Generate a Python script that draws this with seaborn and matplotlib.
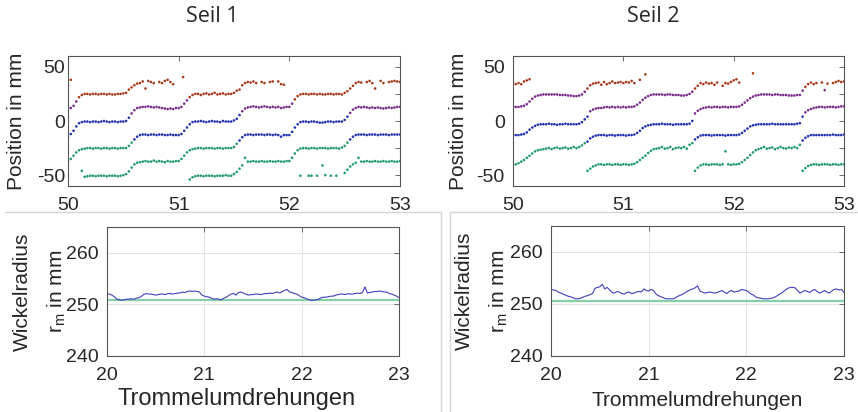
import numpy as np
import pandas as pd
import matplotlib
matplotlib.use("Agg")
import matplotlib.pyplot as plt
from matplotlib.lines import Line2D
import seaborn as sns

sns.set_style("white")
plt.rcParams["font.family"] = ["Liberation Sans", "DejaVu Sans"]
plt.rcParams["mathtext.fontset"] = "custom"
plt.rcParams["mathtext.rm"] = "Liberation Sans"
plt.rcParams["mathtext.it"] = "Liberation Sans:italic"

nan = np.nan

# ====================================
# Data
# ====================================

# drum revolutions, one sample every 0.025 revolutions
rev_top = np.round(np.arange(50, 53.0001, 0.025), 3)
rev_bottom = np.round(np.arange(20, 23.0001, 0.025), 3)

# Seil 1: rope position in mm, four lanes of dots
s1_lane_a = [
    13, 12, 14, 18, 22, 24, 25, 25, 24.5, 25,
    25, 24.5, 25, 25, 24.5, 25, 24.5, 24.5, 25, 25,
    25.5, 26, 29, 31, 33, 34.5, 35, 36.5, 30, 37,
    36, 35, nan, 36, 35, 37, 38, 36, 34, nan,
    12, 13, 16, 19, 22, 24, 25, 25, 24, 25,
    25.5, 24.5, 25, 26, 24.5, 25, 25.5, 24.5, 25, 25,
    26, 28, 29, 33, 35, 36, 35.5, 36.5, 35, nan,
    36, 35, nan, 36, 36.5, nan, 36.5, 34, 33.5, nan,
    13, 16, 20, 23, 24.5, 25, 25, 24.5, 25, 25,
    24.5, 25, 24.5, 24.5, 25, 25, 24.5, 25, 25, 24.5,
    26, 27.5, 30, 32.5, 35, 36, 35.5, nan, 36, 37,
    35, 30, nan, 37, 35, nan, 36, 36.5, 37, 36.5,
    36,
]
s1_lane_b = [
    -14, -12, -9, -5, -2, -1, -0.5, -0.5, -1, -0.5,
    -0.5, -1, -0.5, 0, -0.5, -1, -0.5, -0.5, -1, -0.5,
    -0.5, 0, 3, 7, 10, 12, 12.5, 13, 13, 13.5,
    13, 12.5, 13, 12.5, 12, 11.5, 11, 11.5, 11, 12,
    -13, -12, -9, -6, -3, -1, -0.5, -0.5, 0, -0.5,
    -1, -0.5, 0, -0.5, -0.5, -1, 0, -0.5, -0.5, -0.5,
    0.5, 2, 5.5, 9, 11.5, 12.5, 13, 13.5, 13, 12.5,
    13, 13.5, 13, 12.5, 13, 12.5, 13, 12, 12.5, 13,
    -13, -10, -6, -3, -1, -0.5, -0.5, -1, -0.5, -0.5,
    -1, -1.5, -1.5, -1, -0.5, -0.5, -1, -0.5, -0.5, -0.5,
    1, 4, 7.5, 10.5, 12, 13, 12.5, 13, 12.5, 12,
    12.5, 12, 12.5, 12, 11.5, 12, 12.5, 12, 12.5, 13,
    13,
]
s1_lane_c = [
    -37, -35, -32, -29, -27, -26, -25.5, -25, -25, -25.5,
    -25, -25, -25.5, -25, -25, -25.5, -25, -25, -25.5, -25,
    -25, -25, -23, -20, -17, -14.5, -13, -12.5, -12.5, -13,
    -12.5, -12.5, -13, -12.5, -12.5, -13, -13, -12.5, -13, -13,
    -37, -35, -32, -29, -27, -26, -25.5, -25, -25, -25.5,
    -25, -25, -25, -25.5, -25, -25, -25.5, -25, -25, -25,
    -24, -21, -18, -15, -13, -12.5, -12.5, -13, -12.5, -12.5,
    -12.5, -13, -12.5, -12.5, -13, -12.5, -13, -14.5, -13, -13,
    -37, -34, -30, -27, -25.5, -25, -25, -25.5, -25, -25,
    -25.5, -25, -25, -25, -25.5, -25, -25, -25, -25.5, -24.5,
    -23, -20, -17, -14.5, -13, -12.5, -12.5, -12.5, -13, -12.5,
    -12.5, -12.5, -13, -12.5, -12.5, -12.5, -13, -12.5, -12.5, -12.5,
    -12.5,
]
s1_lane_d = [
    nan, nan, nan, nan, nan, -46, -51.5, -51, -50.5, -50.5,
    -51, -50.5, -50.5, -50.5, -51, -50.5, -50.5, -50.5, -51, -50.5,
    -50, -49, -46.5, -43, -40, -38.5, -38, -37.5, -37, -37.5,
    -37.5, -36.5, -37.5, -37, -37.5, -38, -37, -37.5, -37.5, -37,
    nan, nan, nan, nan, -54, -52, -51, -50.5, -50.5, -51,
    -50.5, -50.5, -50.5, -51, -50.5, -50.5, -50.5, -50, -50.5, -50.5,
    -49, -47, -44, -41, -34, -37.5, -37.5, -37, -37.5, -37.5,
    -37, -37.5, -37.5, -37, -37.5, -37.5, -37, -37.5, -37.5, -37,
    nan, nan, nan, nan, -50.5, nan, nan, -50.5, -50.5, nan,
    -50.5, nan, -41, -50, nan, -50.5, nan, -50.5, nan, nan,
    -48, -45, -42, -40, -38.5, -34, -37.5, -37.5, -37, -37.5,
    -37.5, -37, -37.5, -37.5, -37, -37.5, -37.5, -37, -37.5, -37.5,
    -37,
]
s1_stray_rev = [50.0, 50.025, 51.04]
s1_stray_pos = [33, 38, 40.5]

# Seil 2: rope position in mm
s2_lane_a = [
    35.5, 34, 35, 34, 36.5, 37.5, 38.5, nan, nan, nan,
    nan, nan, nan, nan, nan, nan, nan, nan, nan, nan,
    nan, nan, nan, nan, nan, nan, nan, 30, 33, 34.5,
    35, 35.5, 33.5, 36, 34, 35, 36.5, 35, 35.5, 36,
    35, 36, 35.5, 37, 35, nan, 38, nan, 43, nan,
    nan, nan, nan, nan, nan, nan, nan, nan, nan, nan,
    nan, nan, nan, nan, nan, nan, 30, 32.5, 35, 34,
    35.5, 34.5, 35, 33.5, 35.5, nan, 32.5, 35, 34.5, 36,
    37.5, 38.5, 35.5, nan, nan, nan, nan, 44, nan, nan,
    nan, nan, nan, nan, nan, nan, nan, nan, nan, nan,
    nan, nan, nan, nan, nan, 28, 31.5, 34, 35.5, 34,
    35, nan, 35.5, 28.5, 34.5, nan, 35, 36, 37, 36,
    36.5,
]
s2_lane_b = [
    13, 13, 13, 13.5, 14, 15.5, 18, 20.5, 22.5, 23.5,
    24, 24.5, 24.5, 24.5, 24.5, 24.5, 24.5, 24, 24, 24,
    23.5, 23.5, 23, 23, 23.5, 24.5, 27, 4, 9, 10.5,
    11.5, 12, 12, 12.5, 13, 12.5, 13, 12.5, 13, 12.5,
    13, 12.5, 13, 13, 13.5, 15, 17, 19.5, 21.5, 23,
    24, 24.5, 24.5, 24.5, 24.5, 24, 24.5, 24.5, 24, 24,
    24, 23.5, 23.5, 24, 25, 27, 7, 9.5, 11, 12,
    12.5, 13, 12.5, 13, 13, 12.5, 13, 13, 12.5, 13,
    13, 13, 13.5, 15, 17, 19, 21, 22.5, 23.5, 24,
    24.5, 24.5, 24.5, 24.5, 24, 24.5, 24.5, 24, 24, 24,
    23.5, 23.5, 23.5, 24, 24, 4, 8, 10, 11, 12,
    12.5, 13, 13, 12.5, 13, 13, 13, 12.5, 13, 13.5,
    13.5,
]
s2_lane_c = [
    -13, -13, -13, -12.5, -12, -10.5, -8, -6, -4.5, -3.5,
    -3, -3, -3, -2.5, -3, -3, -3.5, -3, -3, -2.5,
    -3, -3, -3, -3, -2.5, -1, 1.5, -19, -16, -14.5,
    -13.5, -13, -13, -13, -13.5, -13, -13, -13.5, -13, -13,
    -13, -13.5, -13, -13, -12.5, -11, -9, -6.5, -5, -4,
    -3.5, -3, -3, -3, -2.5, -3, -3, -3, -3.5, -3,
    -3, -3, -3, -3, -2.5, 0, -17, -15, -13.5, -13,
    -13, -13, -13.5, -13, -13, -13, -13, -13.5, -13, -13,
    -13, -13, -12.5, -11, -9, -7, -5, -4, -3.5, -3,
    -3, -3, -3, -3, -2.5, -3, -3, -3, -3, -3,
    -3, -3, -3, -2.5, -2, -18, -15.5, -14, -13, -13,
    -13, -13, -13, -13, -13, -13, -12.5, -13, -13, -13,
    -12.5,
]
s2_lane_d = [
    -40, -40, -39, -37.5, -36, -34, -32, -30, -28, -27,
    -26.5, -26, -25.5, -25, -26, -25, -24.5, -25.5, -25, -24.5,
    -25.5, -25, -24, -25, -24, -22.5, -20.5, -46, -44, -42,
    -41, -40, -40, -40.5, -40, -40, -40.5, -40, -40, -40.5,
    -40, -40, -40.5, -40, -39.5, -38, -36, -34, -32, -29.5,
    -27.5, -26, -25.5, -25, -24, -25.5, -25, -24, -26, -25,
    -24.5, -25, -24, -25.5, -22, -20.5, -46, -43, -41, -40,
    -40, -40.5, -40, -40, -40, -40.5, -40, -28, -40, -40.5,
    -40, -40, -39.5, -38, -36, -34, -31.5, -29, -27, -26,
    -25, -24, -25.5, -25, -24.5, -26, -25, -24, -25, -25.5,
    -24.5, -25, -24, -25, -22, -46, -43.5, -41.5, -40.5, -40,
    -40, -40.5, -40, -40, -40, -40.5, -40, -40, -40.5, -40,
    -40,
]

# winding radius r_m in mm
s1_radius = [
    252.0, 252.0, 251.8, 251.5, 251.0, 250.9, 250.8, 250.9, 251.0, 251.0,
    251.1, 251.0, 251.2, 251.3, 251.5, 251.9, 252.1, 252.0, 252.0, 251.9,
    251.8, 251.9, 252.0, 252.0, 251.9, 252.1, 252.1, 252.0, 252.1, 252.2,
    252.2, 252.4, 252.3, 252.5, 252.6, 252.5, 252.6, 252.5, 252.4, 251.8,
    251.6, 251.5, 251.4, 251.2, 251.0, 251.1, 251.0, 250.9, 251.2, 251.4,
    251.7, 252.0, 252.1, 251.8, 252.3, 252.4, 252.2, 252.0, 251.8, 251.9,
    251.9, 252.0, 252.0, 251.9, 252.0, 252.1, 252.1, 252.2, 252.1, 252.3,
    252.4, 252.2, 252.5, 252.7, 252.9, 252.4, 252.3, 252.1, 252.0, 251.7,
    251.4, 251.3, 251.1, 250.9, 250.8, 250.8, 250.9, 251.0, 251.3, 251.4,
    251.4, 251.5, 251.6, 251.6, 251.8, 251.9, 252.0, 252.0, 251.9, 252.1,
    252.0, 252.0, 252.1, 252.2, 252.1, 252.3, 253.4, 252.2, 252.3, 252.4,
    252.5, 252.5, 252.6, 252.5, 252.4, 252.4, 252.1, 252.0, 251.8, 251.6,
    251.3,
]
s2_radius = [
    252.8, 252.7, 252.6, 252.3, 252.1, 251.9, 251.7, 251.5, 251.4, 251.2,
    251.0, 251.0, 251.1, 251.3, 251.5, 251.6, 251.8, 252.0, 253.0, 253.2,
    253.3, 253.8, 252.9, 253.2, 252.7, 252.2, 252.1, 252.4, 252.3, 252.0,
    251.9, 252.2, 252.3, 252.0, 252.1, 252.3, 252.4, 252.3, 252.9, 252.6,
    252.5, 252.8, 252.6, 251.9, 251.6, 251.4, 251.2, 251.0, 251.0, 251.0,
    251.0, 251.2, 251.5, 251.7, 251.9, 252.2, 252.5, 252.7, 252.9, 253.1,
    253.5, 252.5, 252.3, 252.1, 252.2, 252.3, 252.2, 252.1, 252.2, 252.4,
    252.6, 252.3, 252.0, 252.4, 252.6, 252.3, 252.4, 252.5, 252.8, 252.7,
    252.6, 252.3, 251.9, 251.7, 251.3, 251.2, 251.1, 251.0, 251.0, 251.0,
    251.1, 251.2, 251.4, 251.7, 252.0, 252.3, 252.7, 253.0, 253.2, 253.2,
    253.1, 252.6, 252.1, 252.4, 252.6, 252.4, 252.2, 252.6, 252.8, 252.4,
    252.1, 252.3, 252.6, 252.3, 252.1, 252.5, 252.8, 252.9, 252.7, 252.8,
    252.2,
]
s1_radius_ref = 250.8
s2_radius_ref = 250.5

layer_names = ["gruen", "blau", "lila", "rot"]
s1_layer_edges = [-np.inf, -19, 6, 19, np.inf]
s2_layer_edges = [-np.inf, -20, 6, 29, np.inf]

palette = {
    "rot": "#a8381a",
    "lila": "#7a2b8c",
    "blau": "#2232b2",
    "gruen": "#1f9a6b",
}


def layer_frame(lanes, edges, stray_rev=(), stray_pos=()):
    frames = [pd.DataFrame({"rev": rev_top, "pos": lane}) for lane in lanes]
    frames.append(pd.DataFrame({"rev": list(stray_rev), "pos": list(stray_pos)}))
    df = pd.concat(frames, ignore_index=True).dropna()
    df["lage"] = pd.cut(df["pos"], edges, labels=layer_names).astype(str)
    return df


df_s1 = layer_frame([s1_lane_a, s1_lane_b, s1_lane_c, s1_lane_d],
                    s1_layer_edges, s1_stray_rev, s1_stray_pos)
df_s2 = layer_frame([s2_lane_a, s2_lane_b, s2_lane_c, s2_lane_d],
                    s2_layer_edges)

# ====================================
# Figure
# ====================================

W, H = 858, 412
fig = plt.figure(figsize=(W / 100, H / 100), dpi=100)


def px_axes(left, top, right, bottom):
    return fig.add_axes([left / W, 1 - bottom / H, (right - left) / W, (bottom - top) / H])


def style(ax, ypad):
    for sp in ax.spines.values():
        sp.set_color("#555555")
        sp.set_linewidth(0.8)
    ax.tick_params(direction="in", top=True, right=True, length=3.5, width=0.6,
                   color="#555555", labelcolor="#262626", labelsize=14)
    ax.tick_params(axis="y", pad=ypad)
    ax.tick_params(axis="x", pad=8)


ax1 = px_axes(68, 56, 400, 186)
ax2 = px_axes(513, 56, 844, 186)
ax3 = px_axes(107, 227, 399, 356)
ax4 = px_axes(551, 226, 844, 356)

for ax, df, ypad in [(ax1, df_s1, 2), (ax2, df_s2, 6)]:
    sns.scatterplot(data=df, x="rev", y="pos", hue="lage", palette=palette,
                    s=3.5, linewidth=0, legend=False, ax=ax)
    ax.set_xlim(50, 53)
    ax.set_ylim(-60, 60)
    ax.set_xticks([50, 51, 52, 53])
    ax.set_yticks([-50, -25, 0, 25, 50])
    ax.set_yticklabels(["-50", "", "0", "", "50"])
    ax.set_xlabel("")
    ax.set_ylabel("Position in mm", fontsize=15)
    style(ax, ypad)

ax1.yaxis.set_label_coords(-0.125, 0.5)
ax2.yaxis.set_label_coords(-0.136, 0.5)

for ax, rad, ref, fs in [(ax3, s1_radius, s1_radius_ref, 17), (ax4, s2_radius, s2_radius_ref, 15)]:
    ax.grid(True, color="#e3e3e3", linewidth=0.7)
    ax.axhline(ref, color="#86cfa9", linewidth=1.6)
    sns.lineplot(x=rev_bottom, y=rad, color="#3f3fbf", linewidth=0.8, ax=ax)
    ax.set_xlim(20, 23)
    ax.set_ylim(240, 265)
    ax.set_xticks([20, 21, 22, 23])
    ax.set_yticks([240, 250, 260])
    ax.set_xlabel("Trommelumdrehungen", fontsize=fs)
    ax.set_ylabel("Wickelradius\n$\\mathregular{r_m}$ in mm", fontsize=15, linespacing=1.8)
    style(ax, 6)

ax3.yaxis.set_label_coords(-0.133, 0.5)
ax4.yaxis.set_label_coords(-0.14, 0.5)
ax3.xaxis.set_label_coords(0.445, -0.25)
ax4.xaxis.set_label_coords(0.5, -0.27)

fig.text(212 / W, 1 - 16 / H, "Seil 1", ha="center", va="center",
         fontsize=15.5, family=["Open Sans", "DejaVu Sans"])
fig.text(653 / W, 1 - 16 / H, "Seil 2", ha="center", va="center",
         fontsize=15.5, family=["Open Sans", "DejaVu Sans"])

# light panel borders of the screenshot
frame = "#d6d6d6"
fig.add_artist(Line2D([5 / W, 441 / W], [1 - 212 / H, 1 - 212 / H], color=frame, lw=1))
fig.add_artist(Line2D([441 / W, 441 / W], [1 - 212 / H, 0], color=frame, lw=1))
fig.add_artist(Line2D([450 / W, 1], [1 - 212 / H, 1 - 212 / H], color=frame, lw=1))
fig.add_artist(Line2D([450 / W, 450 / W], [1 - 212 / H, 0], color=frame, lw=1))

fig.savefig("out.png", dpi=100)
